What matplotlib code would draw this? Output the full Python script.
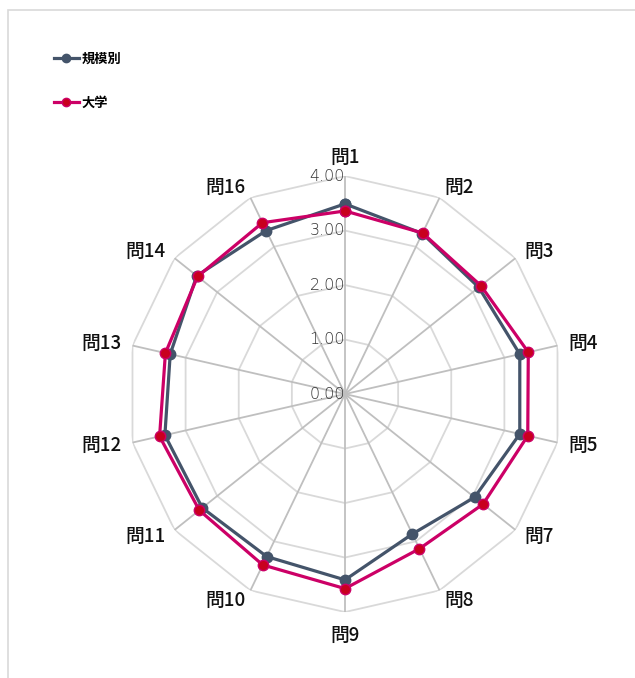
import numpy as np
import matplotlib
matplotlib.use("Agg")
import matplotlib.pyplot as plt
from matplotlib.lines import Line2D
from matplotlib.patches import Rectangle

plt.rcParams['font.family'] = ['Noto Sans CJK JP', 'DejaVu Sans']

# Data
categories = ["問1", "問2", "問3", "問4", "問5", "問7", "問8",
              "問9", "問10", "問11", "問12", "問13", "問14", "問16"]
scale_vals = [3.49, 3.27, 3.14, 3.29, 3.29, 3.04, 2.85,
              3.41, 3.31, 3.35, 3.39, 3.29, 3.48, 3.33]   # 規模別
univ_vals = [3.36, 3.28, 3.19, 3.45, 3.44, 3.24, 3.15,
             3.57, 3.48, 3.42, 3.49, 3.38, 3.46, 3.49]    # 大学
r_ticks = [0, 1, 2, 3, 4]
r_tick_labels = ["0.00", "1.00", "2.00", "3.00", "4.00"]

blue = "#44546A"
red_line = "#CC0066"
red_face = "#C8001E"

fig = plt.figure(figsize=(6.35, 6.78), dpi=100)
# light frame around the chart area
fig.patches.append(Rectangle((8 / 635, -0.05), 1.1, 1 - 10 / 678 + 0.05,
                             transform=fig.transFigure, fill=False,
                             edgecolor="#d9d9d9", linewidth=1.2))

ax = fig.add_axes([0.2, 0.0973, 0.6866, 0.643], projection="polar")
ax.set_theta_zero_location("N")
ax.set_theta_direction(-1)
ax.set_ylim(0, 4)
ax.axis("off")

n = len(categories)
theta = np.arange(n) * 2 * np.pi / n
theta_closed = np.append(theta, theta[0])

# polygon rings and spokes
for r in r_ticks[1:]:
    ax.plot(theta_closed, [r] * (n + 1), color="#d9d9d9", linewidth=1.3, zorder=1)
for t in theta:
    ax.plot([t, t], [0, 4], color="#bfbfbf", linewidth=1.3, zorder=1)

# tick labels on the first spoke
for r, lab in zip(r_ticks, r_tick_labels):
    ax.text(0, r, lab, ha="right", va="center", fontsize=11.5,
            color="#333333", family=["DejaVu Sans"], fontweight="light",
            zorder=2)

# category labels, aligned by side like the original
for t, lab in zip(theta, categories):
    s = np.sin(t)
    if abs(s) < 1e-6:
        top = np.cos(t) > 0
        ax.text(t, 4.17 if top else 4.26, lab, ha="center",
                va="bottom" if top else "top", fontsize=13.5,
                color="#111111", fontweight="medium")
    else:
        ha = "left" if s > 0 else "right"
        ax.text(t, 4.2, lab, ha=ha, va="center", fontsize=13.5,
                color="#111111", fontweight="medium")

ax.plot(theta_closed, scale_vals + scale_vals[:1], color=blue, linewidth=2.3,
        marker="o", markersize=7.5, markerfacecolor=blue, markeredgecolor=blue,
        zorder=3, clip_on=False)
ax.plot(theta_closed, univ_vals + univ_vals[:1], color=red_line, linewidth=2.3,
        marker="o", markersize=7.5, markerfacecolor=red_face,
        markeredgecolor=red_line, zorder=4, clip_on=False)

handles = [
    Line2D([], [], color=blue, linewidth=2.3, marker="o", markersize=6,
           markerfacecolor=blue, markeredgecolor=blue),
    Line2D([], [], color=red_line, linewidth=2.3, marker="o", markersize=6,
           markerfacecolor=red_face, markeredgecolor=red_line),
]
fig.legend(handles, ["規模別", "大学"], loc="upper left",
           bbox_to_anchor=(47 / 635, 1 - 45 / 678), frameon=False,
           prop={"size": 9.5, "weight": "bold"}, handlelength=1.9,
           handletextpad=0.2, labelspacing=2.3, borderpad=0)

fig.savefig("out.png", dpi=100)
